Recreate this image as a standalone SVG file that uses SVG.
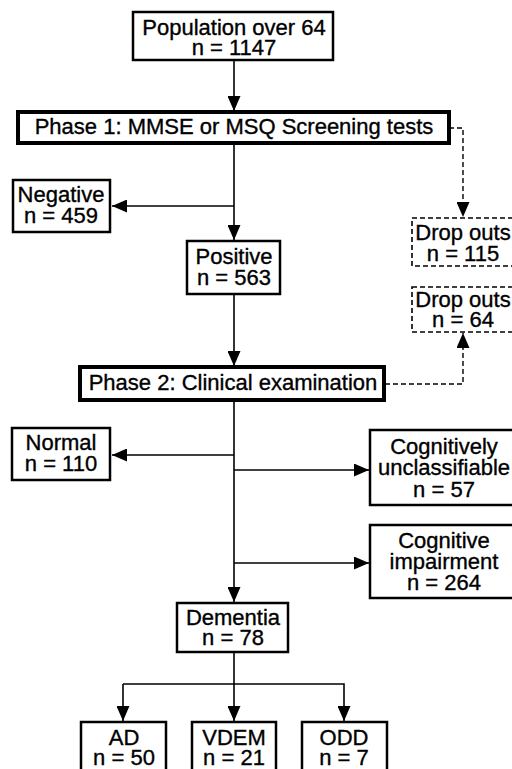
<svg xmlns="http://www.w3.org/2000/svg" width="512" height="769" viewBox="0 0 512 769">
<defs>
<style>
.box{fill:#fff;stroke:#000;stroke-width:2.5}
.thick{fill:#fff;stroke:#000;stroke-width:4}
.dbox{fill:#fff;stroke:#000;stroke-width:1.6;stroke-dasharray:5,3}
.ln{fill:none;stroke:#000;stroke-width:1.6}
.dl{fill:none;stroke:#000;stroke-width:1.4;stroke-dasharray:5,3}
text{font-family:"Liberation Sans",Arial,Helvetica,sans-serif;font-size:22px;fill:#000;stroke:#000;stroke-width:0.35;text-anchor:middle}
</style>
<marker id="ah" markerWidth="15" markerHeight="13" refX="15" refY="6.5" orient="auto" markerUnits="userSpaceOnUse">
<path d="M0,0 L15,6.5 L0,13 z" fill="#000"/>
</marker>
</defs>
<rect width="512" height="769" fill="#fff"/>

<g id="connectors">
<line class="ln" x1="234" y1="60" x2="234" y2="111" marker-end="url(#ah)"/>
<line class="ln" x1="234" y1="143" x2="234" y2="240" marker-end="url(#ah)"/>
<line class="ln" x1="234" y1="206" x2="112" y2="206" marker-end="url(#ah)"/>
<polyline class="dl" points="449,128 463,128 463,217" marker-end="url(#ah)"/>
<line class="ln" x1="234" y1="294" x2="234" y2="366" marker-end="url(#ah)"/>
<polyline class="dl" points="385,384 463,384 463,333" marker-end="url(#ah)"/>
<line class="ln" x1="234" y1="400" x2="234" y2="602" marker-end="url(#ah)"/>
<line class="ln" x1="234" y1="455" x2="112" y2="455" marker-end="url(#ah)"/>
<line class="ln" x1="234" y1="470" x2="369" y2="470" marker-end="url(#ah)"/>
<line class="ln" x1="234" y1="563" x2="369" y2="563" marker-end="url(#ah)"/>
<line class="ln" x1="234" y1="652" x2="234" y2="721" marker-end="url(#ah)"/>
<polyline class="ln" points="123,684 344,684 344,721" marker-end="url(#ah)"/>
<line class="ln" x1="123" y1="684" x2="123" y2="721" marker-end="url(#ah)"/>
</g>

<g id="population">
<rect class="box" x="133" y="12" width="200" height="48"/>
<text x="234" y="35">Population over 64</text>
<text x="234" y="55">n = 1147</text>
</g>

<g id="phase1">
<rect class="thick" x="18" y="112" width="431" height="31"/>
<text x="234" y="134">Phase 1: MMSE or MSQ Screening tests</text>
</g>

<g id="negative">
<rect class="box" x="13" y="180" width="97" height="52"/>
<text x="61" y="202">Negative</text>
<text x="61" y="223">n = 459</text>
</g>

<g id="dropouts1">
<rect class="dbox" x="412" y="218" width="104" height="48"/>
<text x="463" y="240">Drop outs</text>
<text x="463" y="261">n = 115</text>
</g>

<g id="positive">
<rect class="box" x="187" y="241" width="93" height="53"/>
<text x="234" y="264">Positive</text>
<text x="234" y="285">n = 563</text>
</g>

<g id="dropouts2">
<rect class="dbox" x="412" y="287" width="104" height="45"/>
<text x="463" y="307">Drop outs</text>
<text x="463" y="327">n = 64</text>
</g>

<g id="phase2">
<rect class="thick" x="80" y="367" width="304" height="33"/>
<text x="233" y="390">Phase 2: Clinical examination</text>
</g>

<g id="normal">
<rect class="box" x="12" y="428" width="98" height="52"/>
<text x="61" y="450">Normal</text>
<text x="61" y="471">n = 110</text>
</g>

<g id="unclassifiable">
<rect class="box" x="370" y="430" width="150" height="75"/>
<text x="444" y="454">Cognitively</text>
<text x="444" y="475">unclassifiable</text>
<text x="444" y="497">n = 57</text>
</g>

<g id="impairment">
<rect class="box" x="370" y="525" width="150" height="73"/>
<text x="444" y="548">Cognitive</text>
<text x="444" y="569">impairment</text>
<text x="444" y="590">n = 264</text>
</g>

<g id="dementia">
<rect class="box" x="177" y="603" width="111" height="49"/>
<text x="233" y="625">Dementia</text>
<text x="233" y="645">n = 78</text>
</g>

<g id="ad">
<rect class="box" x="81" y="722" width="85" height="55"/>
<text x="124" y="745">AD</text>
<text x="124" y="765">n = 50</text>
</g>

<g id="vdem">
<rect class="box" x="192" y="722" width="84" height="55"/>
<text x="234" y="745">VDEM</text>
<text x="234" y="765">n = 21</text>
</g>

<g id="odd">
<rect class="box" x="302" y="722" width="85" height="55"/>
<text x="344" y="745">ODD</text>
<text x="344" y="765">n = 7</text>
</g>
</svg>
